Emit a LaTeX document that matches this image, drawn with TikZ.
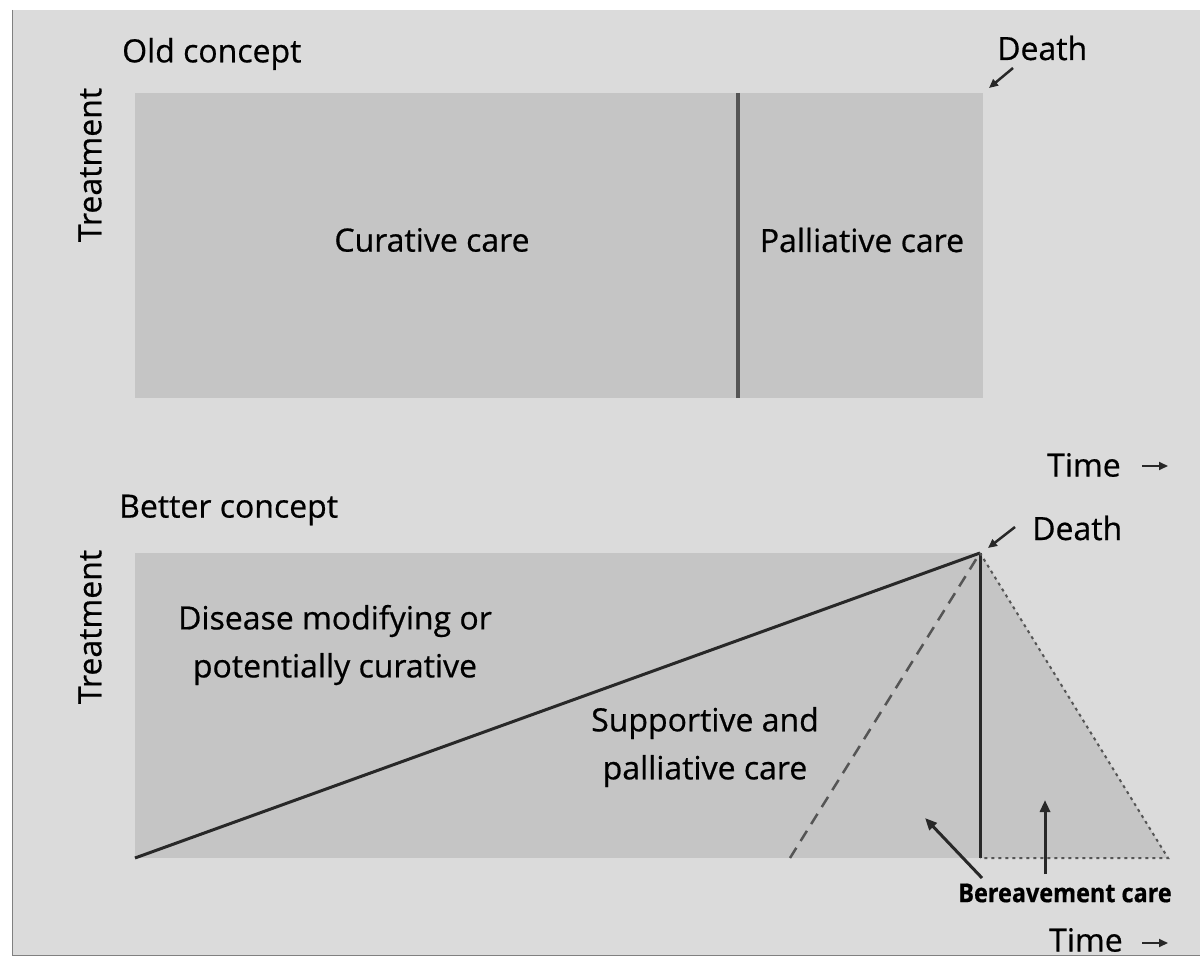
\documentclass[tikz,border=0pt]{standalone}
\usepackage{fontspec}
\usepackage{graphicx}
\setmainfont{Open Sans}[FakeBold=0.6]
\usetikzlibrary{arrows.meta}
\definecolor{paper}{RGB}{219,219,219}
\definecolor{panel}{RGB}{197,197,197}
\definecolor{ink}{RGB}{40,40,40}
\definecolor{rule}{RGB}{85,85,85}
\tikzset{
  lbl/.style={inner sep=0pt, font=\fontsize{32}{48}\selectfont, text=black},
  axis/.style={lbl, rotate=90},
  body/.style={lbl, align=center},
  pointer/.style={ink, line width=3pt, -{Triangle[length=12pt,width=10pt]}},
  smallptr/.style={ink, line width=2.5pt, -{Triangle[length=9pt,width=8pt]}},
  solidln/.style={ink, line width=3pt},
  dashedln/.style={rule, line width=2.5pt, dash pattern=on 12pt off 8pt},
  dottedln/.style={rule, line width=2pt, dash pattern=on 3pt off 4pt},
}
\begin{document}
\begin{tikzpicture}[x=1pt,y=-1pt]
\useasboundingbox (0,0) rectangle (1200,957);
% page
\fill[white] (0,0) rectangle (1200,957);
\fill[paper] (12,10) rectangle (1200,955);
\draw[gray, line width=1.5pt] (12.5,10) -- (12.5,955.5) -- (1200,955.5);

% ---- old concept ----
\node[lbl, anchor=west] (oldt) at (122,54) {Old concept};
\node[axis] (tr1) at (90,165) {Treatment};
\fill[panel] (135,93) rectangle (983,398);
\coordinate (cut1) at (738,93);
\coordinate (cut2) at (738,398);
\draw[rule, line width=4pt] (cut1) -- (cut2);
\node[lbl] (cur) at (432,240) {Curative care};
\node[lbl] (pal) at (862,240) {Palliative care};
\node[lbl, anchor=base west] (death1) at (997,60) {Death};
\coordinate (d1tip) at (989,88);
\draw[smallptr] (1013,68) -- (d1tip);
\node[lbl, anchor=west] (time1) at (1047,465) {Time};
\draw[smallptr, line width=2pt] (1142,466) -- (1168,466);

% ---- better concept ----
\node[lbl, anchor=west] (bett) at (119,510) {Better concept};
\node[axis] (tr2) at (90,627) {Treatment};
\coordinate (bl) at (135,858);
\coordinate (apex) at (980,553);
\coordinate (foot) at (980,858);
\coordinate (tail) at (1168,858);
\coordinate (dstart) at (790,858);
\fill[panel] (135,553) rectangle (980,858);
\fill[panel] (apex) -- (tail) -- (foot) -- cycle;
\draw[solidln] (bl) -- (apex);
\draw[dashedln] (dstart) -- (apex);
\draw[solidln] (apex) -- (foot);
\draw[dottedln] (apex) -- (tail) -- (foot);
\node[body] (dis) at (335,645) {Disease modifying or\\potentially curative};
\node[body] (sup) at (705,747) {Supportive and\\palliative care};
\node[lbl, anchor=base west] (death2) at (1032,540) {Death};
\draw[smallptr] (1015,527) -- (988,548);
\node[lbl, font=\fontsize{26}{30}\bfseries] (ber) at (1065,893) {\scalebox{0.9}[1]{Bereavement care}};
\draw[pointer] (982,878) -- (925,818);
\draw[pointer] (1045,874) -- (1045,800);
\node[lbl, anchor=west] (time2) at (1049,940) {Time};
\draw[smallptr, line width=2pt] (1142,943) -- (1168,943);
\end{tikzpicture}
\end{document}
